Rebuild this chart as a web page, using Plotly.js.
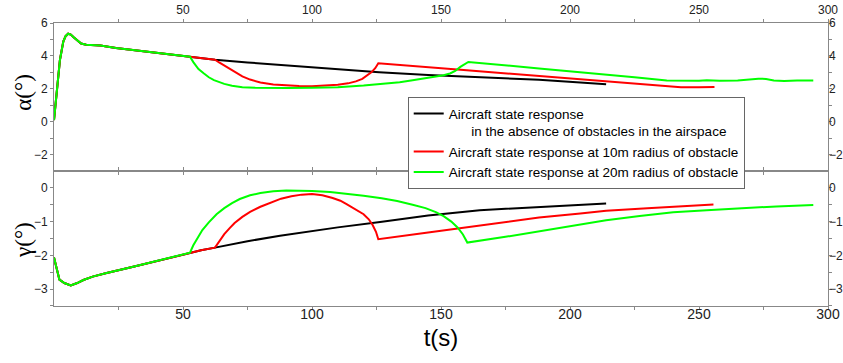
<!DOCTYPE html>
<html>
<head>
<meta charset="utf-8">
<script src="https://cdn.plot.ly/plotly-3.0.1.min.js"></script>
<style>html,body{margin:0;padding:0;background:#fff;}#chart{width:843px;height:363px;}</style>
</head>
<body>
<div id="chart"></div>
<script>
// ---- Data ----
// common initial part (all three runs coincide up to t = 52.7 s)
const tCommonA = [0, 0.7, 1.3, 2.3, 3.6, 4.5, 5.5, 6.5, 7.5, 9, 10.5, 12.5, 15, 18, 24, 32, 42, 52.7];
const alphaCommon = [0.1, 1.1, 2.1, 3.75, 4.87, 5.2, 5.35, 5.3, 5.15, 4.92, 4.75, 4.68, 4.67, 4.63, 4.48, 4.33, 4.15, 3.95];
const tCommonG = [0, 1, 2.1, 4, 6.5, 9, 11.4, 15, 20, 30.7, 42, 52.7];
const gammaCommon = [-2.06, -2.4, -2.72, -2.82, -2.89, -2.82, -2.73, -2.63, -2.53, -2.34, -2.13, -1.92];

// no obstacle (black)
const tBlackA = [57, 62.4, 75, 88, 100, 113, 126, 145, 165, 188, 204, 214];
const alphaBlack = [3.86, 3.76, 3.6, 3.45, 3.3, 3.15, 3.0, 2.84, 2.69, 2.55, 2.38, 2.28];
const tBlackG = [57, 62.4, 75, 87.6, 95.3, 110, 126.4, 145, 165, 188, 204, 214];
const gammaBlack = [-1.85, -1.77, -1.58, -1.42, -1.33, -1.17, -1.01, -0.82, -0.66, -0.56, -0.5, -0.46];

// 10 m radius obstacle (red)
const tRedA = [57, 62.4, 64, 66, 68, 70, 73, 76, 80, 85, 90, 95, 100, 105, 110, 114, 117, 119.5, 121.5, 123, 124.5, 125.7, 160, 188, 204, 214, 225, 235, 243, 250, 256];
const alphaRed = [3.86, 3.77, 3.6, 3.4, 3.2, 3.0, 2.75, 2.56, 2.38, 2.26, 2.2, 2.17, 2.16, 2.18, 2.24, 2.33, 2.45, 2.6, 2.8, 3.0, 3.25, 3.55, 3.12, 2.77, 2.6, 2.46, 2.3, 2.17, 2.09, 2.09, 2.11];
const tRedG = [57, 62.4, 64, 66, 68, 70, 73, 76, 80, 84, 88, 92, 96, 100, 104, 108, 111, 113.4, 116, 118, 120, 122, 123.5, 124.8, 125.7, 145, 165, 188, 204, 214, 230, 245, 255.6];
const gammaRed = [-1.85, -1.77, -1.58, -1.37, -1.2, -1.04, -0.86, -0.71, -0.56, -0.43, -0.32, -0.25, -0.2, -0.18, -0.22, -0.3, -0.38, -0.48, -0.6, -0.68, -0.78, -0.93, -1.1, -1.3, -1.52, -1.32, -1.12, -0.88, -0.76, -0.68, -0.6, -0.53, -0.49];

// 20 m radius obstacle (green)
const tGreenA = [54, 56, 58, 60, 62, 64, 66, 69, 73, 78, 85, 90, 100, 110, 120, 128, 134, 139, 144, 148, 151, 153.5, 155.5, 157.5, 159, 160.6, 188, 200, 214, 225, 237.5, 245, 250, 253, 258, 265, 270, 273, 276, 279, 283, 288, 294.3];
const alphaGreen = [3.62, 3.2, 2.94, 2.7, 2.53, 2.4, 2.3, 2.19, 2.1, 2.06, 2.04, 2.05, 2.06, 2.1, 2.2, 2.3, 2.4, 2.52, 2.64, 2.73, 2.82, 2.93, 3.08, 3.33, 3.5, 3.63, 3.24, 3.07, 2.9, 2.7, 2.5, 2.47, 2.49, 2.52, 2.49, 2.5, 2.57, 2.61, 2.6, 2.5, 2.48, 2.51, 2.5];
const tGreenG = [54, 55.5, 57.5, 60, 63, 66, 69, 72, 76, 80, 85, 90, 95, 100, 107, 113, 120, 127, 133, 139, 144, 148, 151, 154, 156.5, 158.5, 160.2, 175, 188.4, 204, 214, 227, 240, 253, 266, 280, 294.3];
const gammaGreen = [-1.7, -1.5, -1.25, -1.02, -0.78, -0.6, -0.45, -0.33, -0.22, -0.15, -0.1, -0.08, -0.08, -0.09, -0.12, -0.17, -0.23, -0.31, -0.39, -0.5, -0.6, -0.72, -0.84, -1.0, -1.18, -1.38, -1.62, -1.45, -1.28, -1.09, -0.96, -0.83, -0.72, -0.66, -0.6, -0.55, -0.51];

const seriesNames = [
  'Aircraft state response<br>\u00a0\u00a0\u00a0\u00a0\u00a0\u00a0in the absence of obstacles in the airspace',
  'Aircraft state response at 10m radius of obstacle',
  'Aircraft state response at 20m radius of obstacle'
];
const seriesColors = ['#000000', '#ff0000', '#00ff00'];

const xTickVals = [50, 100, 150, 200, 250, 300];
const xMinorVals = [25, 75, 125, 175, 225, 275];
const alphaTickVals = [-2, 0, 2, 4, 6];
const alphaMinorVals = [-1, 1, 3, 5];
const gammaTickVals = [-3, -2, -1, 0];
const gammaMinorVals = [-3.5, -2.5, -1.5, -0.5];

// ---- Build traces ----
const join = (a, b) => a.concat(b);
const alphaT = [join(tCommonA, tBlackA), join(tCommonA, tRedA), join(tCommonA, tGreenA)];
const alphaV = [join(alphaCommon, alphaBlack), join(alphaCommon, alphaRed), join(alphaCommon, alphaGreen)];
const gammaT = [join(tCommonG, tBlackG), join(tCommonG, tRedG), join(tCommonG, tGreenG)];
const gammaV = [join(gammaCommon, gammaBlack), join(gammaCommon, gammaRed), join(gammaCommon, gammaGreen)];

const traces = [];
for (let i = 0; i < 3; i++) {
  traces.push({x: alphaT[i], y: alphaV[i], xaxis: 'x2', yaxis: 'y2', type: 'scatter', mode: 'lines',
    line: {color: seriesColors[i], width: 2}, name: seriesNames[i], showlegend: true});
}
for (let i = 0; i < 3; i++) {
  traces.push({x: gammaT[i], y: gammaV[i], xaxis: 'x', yaxis: 'y', type: 'scatter', mode: 'lines',
    line: {color: seriesColors[i], width: 2}, name: seriesNames[i], showlegend: false});
}
// empty traces so the right-hand label axes get drawn
traces.push({x: [], y: [], xaxis: 'x', yaxis: 'y3', showlegend: false, hoverinfo: 'skip'});
traces.push({x: [], y: [], xaxis: 'x2', yaxis: 'y4', showlegend: false, hoverinfo: 'skip'});

const axCol = '#888888';
const font = 'Liberation Sans, Arial, sans-serif';
const serif = 'Liberation Serif, Times New Roman, serif';
const minorOf = vals => ({tickmode: 'array', tickvals: vals, ticks: 'outside', ticklen: 3, tickcolor: axCol});
const common = {showline: true, linecolor: axCol, linewidth: 1, ticks: 'outside', ticklen: 3, tickcolor: axCol,
  showgrid: false, zeroline: false, tickfont: {family: font, size: 12, color: '#222'}};

const layout = {
  width: 843, height: 363,
  margin: {l: 54, r: 15, t: 23, b: 57},
  paper_bgcolor: '#fff', plot_bgcolor: '#fff',
  showlegend: true,
  legend: {x: 0.457, y: 0.738, xanchor: 'left', yanchor: 'top', bgcolor: '#fff', bordercolor: '#666', borderwidth: 1,
    font: {family: font, size: 13.5, color: '#000'}, tracegroupgap: 0, valign: 'top'},
  xaxis: Object.assign({}, common, {domain: [0, 1], anchor: 'y', range: [0, 300], tickmode: 'array', tickvals: xTickVals,
    mirror: 'ticks', tickfont: {family: font, size: 14, color: '#222'}, ticklabelstandoff: -8,
    minor: minorOf(xMinorVals),
    title: {text: 't(s)', font: {family: font, size: 24, color: '#000'}, standoff: 8}}),
  xaxis2: Object.assign({}, common, {domain: [0, 1], anchor: 'y2', side: 'top', matches: 'x', range: [0, 300], tickmode: 'array', tickvals: xTickVals,
    mirror: 'ticks', minor: minorOf(xMinorVals)}),
  yaxis: Object.assign({}, common, {domain: [0, 0.477], anchor: 'x', range: [-3.5, 0.5], tickmode: 'array', tickvals: gammaTickVals,
    mirror: 'ticks', minor: minorOf(gammaMinorVals)}),
  yaxis2: Object.assign({}, common, {domain: [0.477, 1], anchor: 'x2', range: [-3, 6], tickmode: 'array', tickvals: alphaTickVals,
    mirror: 'ticks', minor: minorOf(alphaMinorVals)}),
  yaxis3: Object.assign({}, common, {overlaying: 'y', anchor: 'x', side: 'right', range: [-3.5, 0.5], tickmode: 'array', tickvals: gammaTickVals,
    showline: false, ticks: '', ticklen: 0}),
  yaxis4: Object.assign({}, common, {overlaying: 'y2', anchor: 'x2', side: 'right', range: [-3, 6], tickmode: 'array', tickvals: alphaTickVals,
    showline: false, ticks: '', ticklen: 0}),
  annotations: [
    {text: 'α(°)', xref: 'paper', yref: 'paper', x: -0.0395, y: 0.755, xanchor: 'center', yanchor: 'middle', textangle: -90,
      showarrow: false, font: {family: serif, size: 23, color: '#000'}},
    {text: 'γ(°)', xref: 'paper', yref: 'paper', x: -0.0395, y: 0.235, xanchor: 'center', yanchor: 'middle', textangle: -90,
      showarrow: false, font: {family: serif, size: 23, color: '#000'}}
  ]
};

Plotly.newPlot('chart', traces, layout, {staticPlot: true, displayModeBar: false});
</script>
</body>
</html>
